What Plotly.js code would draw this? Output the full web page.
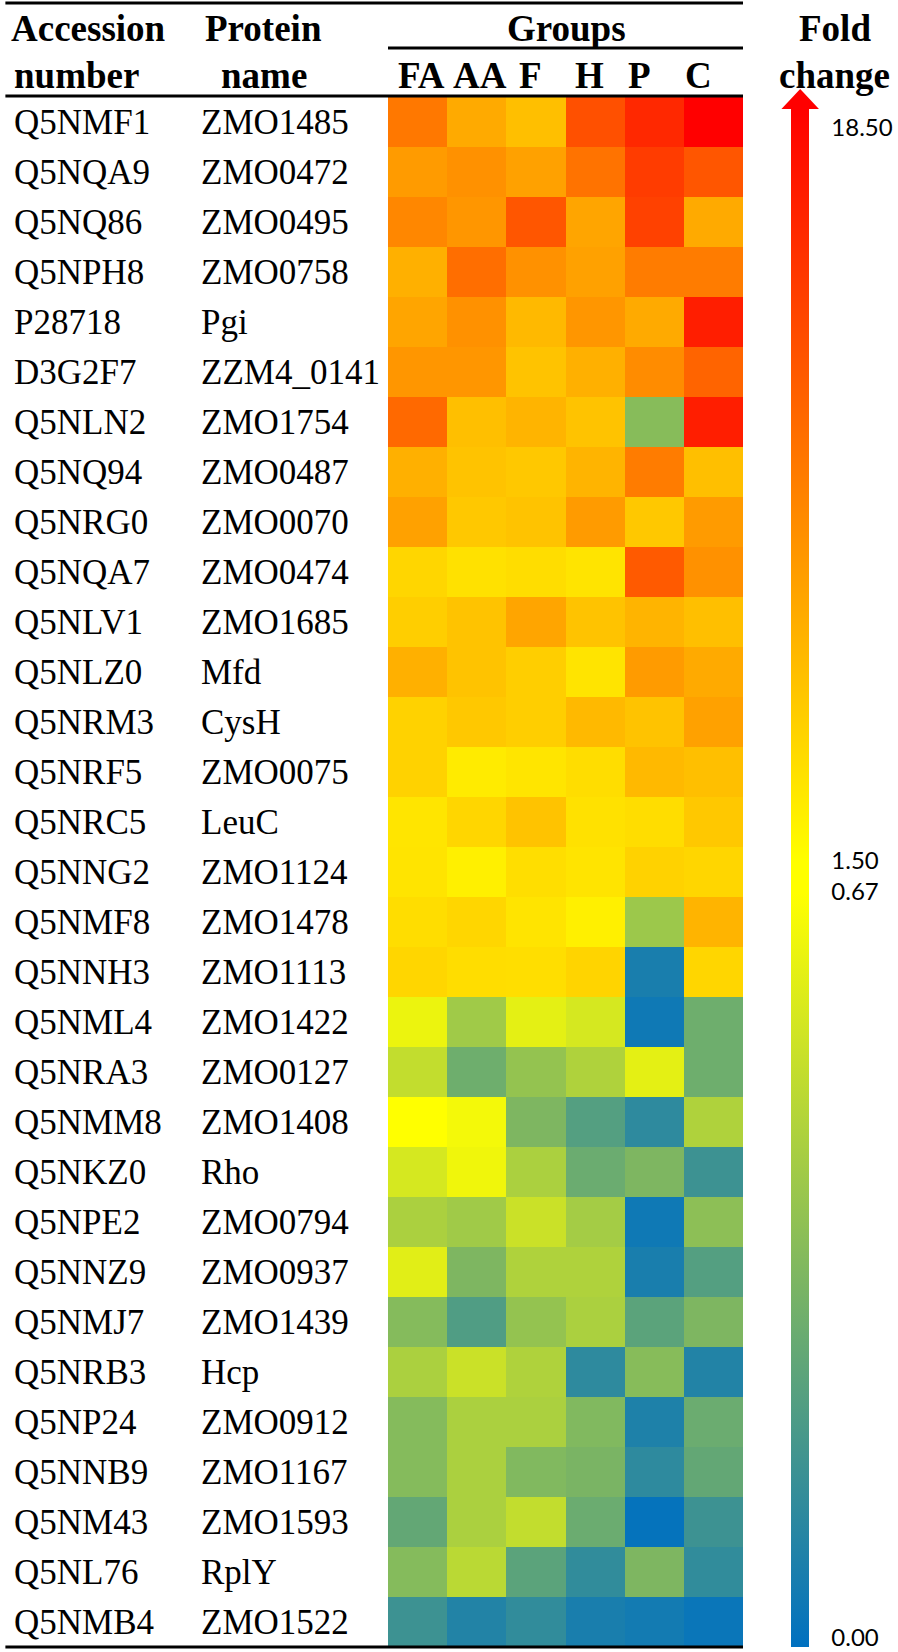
<!DOCTYPE html>
<html>
<head>
<meta charset="utf-8">
<script src="https://cdn.plot.ly/plotly-3.0.1.min.js"></script>
<style>html,body{margin:0;padding:0;background:#fff;}#chart{width:898px;height:1652px;}</style>
</head>
<body>
<div id="chart"></div>
<script>
// ---- data ----
const groups = ["FA", "AA", "F", "H", "P", "C"];
const accessions = ["Q5NMF1","Q5NQA9","Q5NQ86","Q5NPH8","P28718","D3G2F7","Q5NLN2","Q5NQ94","Q5NRG0","Q5NQA7","Q5NLV1","Q5NLZ0","Q5NRM3","Q5NRF5","Q5NRC5","Q5NNG2","Q5NMF8","Q5NNH3","Q5NML4","Q5NRA3","Q5NMM8","Q5NKZ0","Q5NPE2","Q5NNZ9","Q5NMJ7","Q5NRB3","Q5NP24","Q5NNB9","Q5NM43","Q5NL76","Q5NMB4"];
const proteins = ["ZMO1485","ZMO0472","ZMO0495","ZMO0758","Pgi","ZZM4_0141","ZMO1754","ZMO0487","ZMO0070","ZMO0474","ZMO1685","Mfd","CysH","ZMO0075","LeuC","ZMO1124","ZMO1478","ZMO1113","ZMO1422","ZMO0127","ZMO1408","Rho","ZMO0794","ZMO0937","ZMO1439","Hcp","ZMO0912","ZMO1167","ZMO1593","RplY","ZMO1522"];

const FA = [10.5, 8.2, 9.5, 6.8, 7.5, 8.5, 11.5, 6.8, 7.8, 4.2, 4.8, 6.8, 4.5, 4.5, 3.2, 3.3, 3.8, 4.2, 0.62, 0.51, 0.67, 0.56, 0.45, 0.59, 0.35, 0.45, 0.35, 0.35, 0.26, 0.35, 0.16];
const AA = [7.2, 8.8, 8.5, 11.2, 8.8, 8.5, 5.8, 5.5, 5.2, 3.5, 5.5, 5.5, 5.2, 2.8, 4.2, 2.5, 4.2, 3.8, 0.42, 0.29, 0.64, 0.63, 0.42, 0.33, 0.21, 0.53, 0.45, 0.45, 0.45, 0.49, 0.09];
const F  = [5.8, 7.8, 12.8, 8.8, 6.2, 5.5, 6.5, 5.2, 5.5, 3.8, 7.5, 4.8, 4.8, 3.2, 5.5, 3.7, 3.3, 3.7, 0.60, 0.39, 0.33, 0.45, 0.53, 0.46, 0.39, 0.46, 0.45, 0.34, 0.51, 0.24, 0.13];
const H  = [13.2, 10.8, 7.5, 7.8, 8.5, 6.8, 5.5, 6.5, 8.2, 3.3, 5.5, 3.3, 6.2, 3.8, 3.5, 3.3, 2.5, 4.4, 0.56, 0.46, 0.22, 0.28, 0.43, 0.46, 0.45, 0.12, 0.34, 0.32, 0.28, 0.13, 0.066];
const P  = [15.8, 14.5, 14.2, 10.2, 7.2, 9.2, 0.355, 10.2, 5.2, 12.5, 6.5, 8.2, 5.5, 6.2, 3.8, 4.5, 0.41, 0.067, 0.04, 0.60, 0.12, 0.33, 0.04, 0.066, 0.24, 0.355, 0.08, 0.12, 0.013, 0.33, 0.05];
const C  = [18.5, 12.8, 7.2, 10.2, 16.5, 11.8, 16.5, 5.8, 8.2, 8.8, 5.8, 7.2, 7.8, 5.8, 5.2, 4.2, 6.5, 4.2, 0.29, 0.29, 0.46, 0.16, 0.37, 0.22, 0.33, 0.09, 0.28, 0.26, 0.16, 0.13, 0.026];

const colorbarTickText = ["18.50", "1.50", "0.67", "0.00"];

// ---- build ----
const series = [FA, AA, F, H, P, C];
// two-part scale: 0..0.67 (blue->yellow), 1.5..18.5 (yellow->red)
function scalePos(v) {
  if (v >= 1.5) return 0.51 + 0.49 * (v - 1.5) / (18.5 - 1.5);
  if (v <= 0.67) return 0.49 * v / 0.67;
  return 0.5;
}
const z = accessions.map((_, r) => series.map(s => scalePos(s[r])));
const raw = accessions.map((_, r) => series.map(s => s[r]));

const serif = "'Liberation Serif', 'Times New Roman', serif";

const L = 388, R = 748, T = 97, B = 1647; // plot area in px
const px = x => (x - L) / (R - L);
const py = y => (B - y) / (B - T);

const annotations = [];
accessions.forEach((a, i) => {
  annotations.push({xref: 'paper', yref: 'y', x: px(7), y: a, xanchor: 'left', yanchor: 'middle',
    text: a, showarrow: false, font: {family: serif, size: 35, color: '#000'}});
  annotations.push({xref: 'paper', yref: 'y', x: px(196), y: a, xanchor: 'left', yanchor: 'middle',
    text: proteins[i], showarrow: false, font: {family: serif, size: 35, color: '#000'}});
});
const hdr = (text, x, y) => ({xref: 'paper', yref: 'paper', x: px(x), y: py(y), xanchor: 'center', yanchor: 'middle',
  text: '<b>' + text + '</b>', showarrow: false, font: {family: serif, size: 37, color: '#000'}});
annotations.push(hdr('Accession', 84, 29));
annotations.push(hdr('number', 72, 75));
annotations.push(hdr('Protein', 262, 29));
annotations.push(hdr('name', 262, 75));
annotations.push(hdr('Groups', 569, 29));
annotations.push(hdr('Fold', 841, 29));
annotations.push(hdr('change', 841, 75));
const groupLabelX = [422, 481, 533, 592, 643, 703];
groups.forEach((g, i) => annotations.push(hdr(g, groupLabelX[i], 75)));

const line = (x0, x1, y) => ({type: 'line', xref: 'paper', yref: 'paper', x0: px(x0), x1: px(x1), y0: py(y), y1: py(y),
  line: {color: '#000', width: 3}});
const shapes = [
  line(0, 748, 3),
  line(388, 748, 48),
  line(0, 748, 96),
  line(0, 748, 1647),
  {type: 'path', xref: 'paper', yref: 'paper', fillcolor: '#FF0000', line: {width: 0},
   path: `M ${px(787)} ${py(109)} L ${px(806)} ${py(89)} L ${px(825)} ${py(109)} Z`}
];

const trace = {
  type: 'heatmap',
  x: groups,
  y: accessions,
  z: z,
  customdata: raw,
  hovertemplate: '%{y} %{x}: %{customdata}<extra></extra>',
  zmin: 0, zmax: 1,
  colorscale: [[0, '#0070C0'], [0.49, '#FFFF00'], [0.51, '#FFFF00'], [1, '#FF0000']],
  xgap: 0, ygap: 0,
  colorbar: {
    x: px(797), xanchor: 'left', xpad: 0,
    y: 0, yanchor: 'bottom', ypad: 0,
    len: 1538, lenmode: 'pixels',
    thickness: 18, thicknessmode: 'pixels',
    outlinewidth: 0,
    tickmode: 'array',
    tickvals: [0.988, 0.511, 0.491, 0.006],
    ticktext: colorbarTickText,
    ticks: 'outside', ticklen: 18, tickcolor: 'rgba(0,0,0,0)',
    tickfont: {family: 'Lato, Carlito, Calibri, sans-serif', size: 24, color: '#000'}
  }
};

const layout = {
  width: 898, height: 1652,
  margin: {l: L, r: 898 - R, t: T, b: 1652 - B, pad: 0},
  paper_bgcolor: '#fff', plot_bgcolor: '#fff',
  xaxis: {visible: false, showgrid: false, zeroline: false, fixedrange: true},
  yaxis: {visible: false, showgrid: false, zeroline: false, autorange: 'reversed', fixedrange: true},
  annotations: annotations,
  shapes: shapes,
  showlegend: false
};

Plotly.newPlot('chart', [trace], layout, {displayModeBar: false, staticPlot: true});
</script>
</body>
</html>
